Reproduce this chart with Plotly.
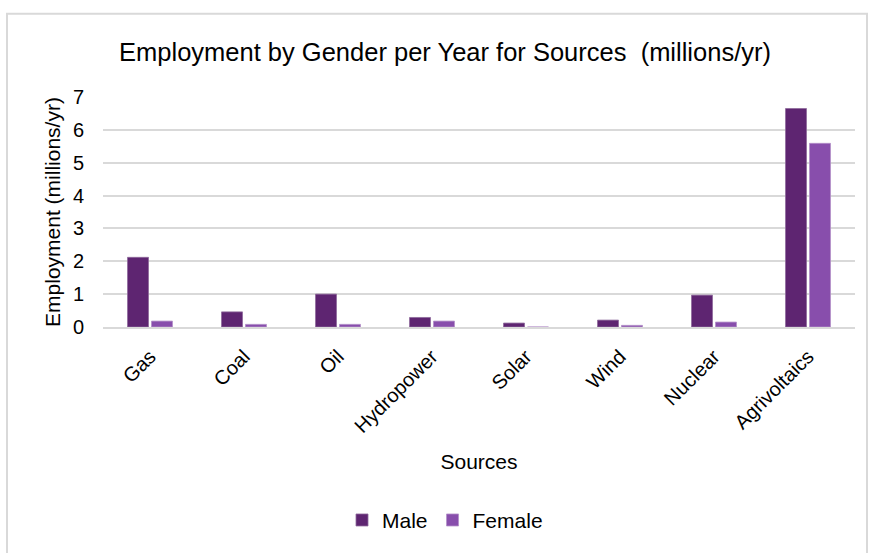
import plotly.graph_objects as go

sources = ["Gas", "Coal", "Oil", "Hydropower", "Solar", "Wind", "Nuclear", "Agrivoltaics"]
male = [2.12, 0.46, 1.00, 0.29, 0.12, 0.21, 0.97, 6.65]
female = [0.18, 0.08, 0.08, 0.18, 0.0, 0.05, 0.15, 5.59]

W, H = 869, 553
ml, mr, mt, mb = 103, 14, 97, 224
FONT = "Liberation Sans, Arial, sans-serif"

fig = go.Figure()
fig.add_trace(go.Bar(x=sources, y=male, name="Male",
                     marker=dict(color="#5E2571", line=dict(color="#8E6A9C", width=0.8))))
fig.add_trace(go.Bar(x=sources, y=female, name="Female",
                     marker=dict(color="#884EAC", line=dict(color="#B28FC8", width=0.8))))

pw = W - ml - mr
ph = H - mt - mb
def px_x(p):
    return (p - ml) / pw
def px_y(p):
    return (H - mb - p) / ph

fig.add_shape(type="rect", xref="paper", yref="paper",
              x0=px_x(7), x1=px_x(867), y0=px_y(560), y1=px_y(13),
              line=dict(color="#D9D9D9", width=2), fillcolor="rgba(0,0,0,0)", layer="below")

fig.update_layout(
    width=W, height=H,
    margin=dict(l=ml, r=mr, t=mt, b=mb),
    paper_bgcolor="white", plot_bgcolor="white",
    font=dict(family=FONT, color="#000000", size=20),
    title=dict(text="Employment by Gender per Year for Sources  (millions/yr)",
               x=445 / W, xanchor="center", y=1 - 52 / H, yanchor="middle",
               font=dict(size=25.5, family=FONT, color="#000000")),
    barmode="group", bargap=0.49, bargroupgap=0.125,
    showlegend=True,
    legend=dict(orientation="h", x=px_x(445), xanchor="center", y=px_y(524), yanchor="middle",
                font=dict(size=21, family=FONT), traceorder="normal"),
    xaxis=dict(tickangle=-45, showgrid=False, showline=True, linecolor="#D9D9D9", linewidth=2,
               ticks="", tickfont=dict(size=20, family=FONT), ticklabelstandoff=8,
               title=dict(text="Sources", font=dict(size=21, family=FONT), standoff=18)),
    yaxis=dict(range=[0, 7], dtick=1, showgrid=True, gridcolor="#D9D9D9", gridwidth=2,
               zeroline=False, showline=False, ticks="", ticklabelstandoff=18,
               tickfont=dict(size=20, family=FONT),
               title=dict(text="Employment (millions/yr)", font=dict(size=21, family=FONT), standoff=6)),
)

fig.write_html("out.html", config={"displayModeBar": False},
               post_script="document.body.style.margin='0';")
